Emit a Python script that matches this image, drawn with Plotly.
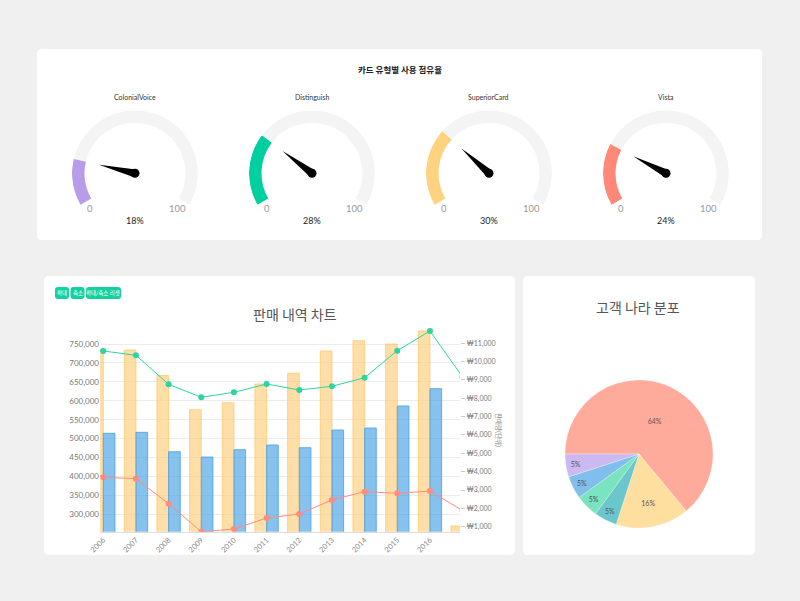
import plotly.graph_objects as go

W, H = 800, 601
FONT = "Lato, Noto Sans CJK KR"

# gauge data
card_names = ["ColonialVoice", "Distinguish", "SuperiorCard", "Vista"]
card_share = [18, 28, 30, 24]
card_colors = ["#b99ce9", "#00d0a0", "#ffd27f", "#ff8877"]

# sales chart data (2005 and 2017 lie outside the zoomed view)
years = list(range(2005, 2018))
sales_orange = [720000, 736800, 734200, 666800, 576400, 594900, 644300,
                672600, 731500, 758800, 750000, 784400, 269100]
sales_blue = [500000, 514000, 516700, 465400, 451400, 470700, 483100,
              476000, 522800, 528100, 586200, 632000, 280000]
price_green = [10600, 10580, 10346, 8764, 8056, 8328, 8781,
               8454, 8655, 9124, 10597, 11671, 9162]
price_red = [4750, 3694, 3617, 2254, 727, 875, 1474,
             1692, 2456, 2908, 2821, 2946, 1878]
left_ticks = list(range(300000, 750001, 50000))
right_ticks = list(range(1000, 11001, 1000))
right_labels = ["₩{:,}".format(v) for v in right_ticks]

# pie data
countries = ["United States", "Canada", "France", "Germany", "Australia", "United Kingdom"]
country_share = [64, 16, 5, 5, 5, 5]
country_colors = ["#ffab9b", "#ffdfa0", "#6cc7cc", "#7ae3bf", "#80bfeb", "#cdb9f1"]


def px(x):
    return x / W


def py(y):
    return 1 - y / H


def round_rect(x0, y0, x1, y1, r=5):
    rx, ry = r / W, r / H
    a, b, c, d = px(x0), py(y1), px(x1), py(y0)
    return (f"M{a+rx},{b} L{c-rx},{b} Q{c},{b} {c},{b+ry} L{c},{d-ry} Q{c},{d} {c-rx},{d} "
            f"L{a+rx},{d} Q{a},{d} {a},{d-ry} L{a},{b+ry} Q{a},{b} {a+rx},{b} Z")


fig = go.Figure()

# cards and zoom buttons
shapes = []
for box, col, r in [((37, 49, 762, 240), "white", 5), ((44, 276, 515, 555), "white", 5),
                    ((523, 276, 755, 555), "white", 5),
                    ((55, 287, 69, 299), "#12d1a0", 3), ((70.5, 287, 84.5, 299), "#12d1a0", 3),
                    ((86, 287, 121, 299), "#12d1a0", 3)]:
    shapes.append(dict(type="path", path=round_rect(*box, r=r), xref="paper", yref="paper",
                       fillcolor=col, line=dict(width=0), layer="below"))

annotations = []


def note(text, x, y, size, color, family=FONT, **kw):
    annotations.append(dict(text=text, x=px(x), y=py(y), xref="paper", yref="paper",
                            xanchor="center", yanchor="middle", showarrow=False,
                            font=dict(size=size, color=color, family=family), **kw))


note("<b>카드 유형별 사용 점유율</b>", 400, 69, 8.5, "#222", family="Noto Sans CJK KR")

# gauges
centers = [135, 312, 489, 666]
cy = 173.3
for i, (name, val, col, cx) in enumerate(zip(card_names, card_share, card_colors, centers)):
    pid = "polar" if i == 0 else f"polar{i+1}"
    fig.add_trace(go.Barpolar(theta=[120], width=[240], r=[12.5], base=[50.5],
                              marker=dict(color="#f4f4f4", line=dict(width=0)),
                              subplot=pid, hoverinfo="skip"))
    ang = val * 2.4
    fig.add_trace(go.Barpolar(theta=[ang / 2], width=[ang], r=[12.5], base=[50.5],
                              marker=dict(color=col, line=dict(width=0)),
                              subplot=pid, hoverinfo="skip"))
    fig.add_trace(go.Scatterpolar(r=[37, 4, 4, 37], theta=[ang, ang + 90, ang - 90, ang],
                                  mode="lines", fill="toself", fillcolor="black",
                                  line=dict(width=0, color="black"), subplot=pid,
                                  hoverinfo="skip"))
    fig.add_trace(go.Scatterpolar(r=[0], theta=[0], mode="markers",
                                  marker=dict(size=9, color="black"), subplot=pid,
                                  hoverinfo="skip"))
    fig.layout[pid] = dict(
        domain=dict(x=[px(cx - 63), px(cx + 63)], y=[py(cy + 63), py(cy - 63)]),
        bgcolor="rgba(0,0,0,0)",
        angularaxis=dict(visible=False, rotation=210, direction="clockwise"),
        radialaxis=dict(visible=False, range=[0, 63]),
    )
    note(name, cx, 97.5, 7, "#333")
    note("0", cx - 45, 208, 9.5, "#999")
    note("100", cx + 42, 208, 9.5, "#999")
    note(f"{val}%", cx, 220, 9, "#222")

# sales chart
fig.add_trace(go.Bar(x=years, y=sales_orange, marker=dict(color="rgba(255,206,120,0.65)",
                     line=dict(color="rgba(255,200,110,0.8)", width=1)),
                     xaxis="x", yaxis="y", name="orange"))
fig.add_trace(go.Bar(x=years, y=sales_blue, marker=dict(color="rgba(70,160,228,0.65)",
                     line=dict(color="rgba(70,160,228,0.8)", width=1)),
                     xaxis="x", yaxis="y", name="blue"))
fig.add_trace(go.Scatter(x=years, y=price_green, mode="lines+markers",
                         line=dict(color="#2dd4a0", width=1), marker=dict(size=6, color="#2dd4a0"),
                         xaxis="x", yaxis="y2"))
fig.add_trace(go.Scatter(x=years, y=price_red, mode="lines+markers",
                         line=dict(color="#ff8c7c", width=1), marker=dict(size=6, color="#ff8c7c"),
                         xaxis="x", yaxis="y2"))

# pie
fig.add_trace(go.Pie(labels=countries, values=country_share, sort=False,
                     direction="clockwise", rotation=-90,
                     marker=dict(colors=country_colors, line=dict(color="rgba(255,255,255,0.5)", width=0.5)),
                     texttemplate="%{percent:.0%}", textposition="inside",
                     insidetextorientation="horizontal",
                     textfont=dict(size=7, color="#555"),
                     domain=dict(x=[px(565), px(713)], y=[py(528), py(380)])))

note("판매 내역 차트", 295, 314, 14, "#555", family="Noto Sans CJK KR")
note("고객 나라 분포", 638, 307, 14, "#555", family="Noto Sans CJK KR")
note("판매량(단위)", 499, 430, 6.5, "#888", family="Noto Sans CJK KR", textangle=90)

for label, cx in [("확대", 62), ("축소", 77.5), ("확대/축소 리셋", 103.5)]:
    note(label, cx, 293, 5.5, "white", family="Noto Sans CJK KR")

fig.update_layout(
    width=W, height=H,
    margin=dict(l=0, r=0, t=0, b=0, pad=0),
    paper_bgcolor="#f0f0f0",
    plot_bgcolor="white",
    font=dict(family=FONT),
    showlegend=False,
    barmode="group", bargap=0.286, bargroupgap=0,
    shapes=shapes,
    annotations=annotations,
    xaxis=dict(domain=[px(100), px(460)], range=[2005.9, 2016.92], automargin=False,
               tickvals=years[1:12], tickangle=-45, tickfont=dict(size=7.5, color="#888"),
               showgrid=False, showline=True, linecolor="#ddd", zeroline=False,
               anchor="y"),
    yaxis=dict(domain=[py(531.7), py(320)], range=[254000, 813500], automargin=False,
               tickvals=left_ticks, tickformat=",", tickfont=dict(size=8, color="#777"),
               gridcolor="#ececec", zeroline=False, showline=False),
    yaxis2=dict(overlaying="y", side="right", range=[727, 12270], automargin=False,
                tickvals=right_ticks, ticktext=right_labels,
                tickfont=dict(size=7, color="#777"), ticks="outside", ticklen=4,
                tickcolor="#ccc", showgrid=False, zeroline=False, anchor="x"),
)

fig.write_html("out.html", config={"displayModeBar": False},
               post_script="document.body.style.margin='0px';")
